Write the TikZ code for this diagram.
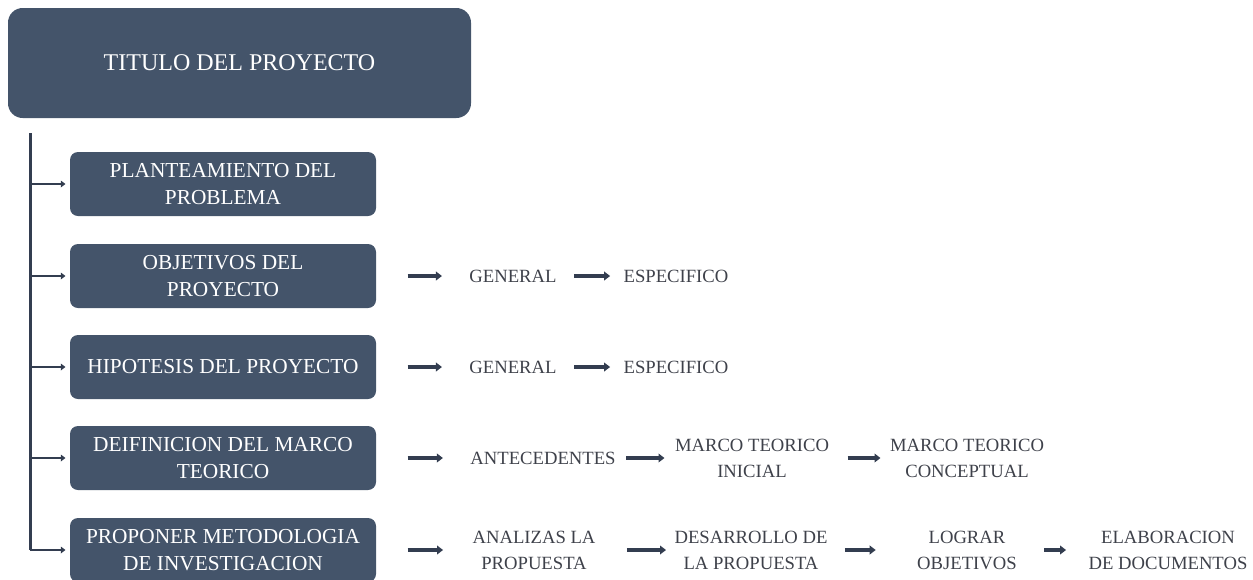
\documentclass[tikz,border=0pt]{standalone}
\usepackage{fontspec}
\setmainfont{Liberation Serif}
\usetikzlibrary{arrows.meta}

\definecolor{cajaazul}{RGB}{68,84,106}
\definecolor{lineaazul}{RGB}{51,61,80}
\definecolor{textogris}{RGB}{62,65,74}

\tikzset{every picture/.style={line width=0.75pt}}
\tikzset{
	caja/.style={fill=cajaazul, draw=none, rounded corners=6pt, minimum width=229.5pt, minimum height=48pt, text=white, align=center, inner sep=0pt, font=\fontsize{16}{20}\selectfont},
	titulo/.style={caja, rounded corners=11pt, minimum width=347.25pt, minimum height=82.5pt, font=\fontsize{18}{22}\selectfont},
	etiqueta/.style={text=textogris, align=center, inner sep=0pt, font=\fontsize{14}{19.5}\selectfont},
	rama/.style={draw=lineaazul, line width=2pt, -{Triangle[length=3.5pt,width=5pt]}, shorten >=3pt},
	flecha/.style={draw=lineaazul, line width=2.6pt, -{Triangle[length=4.5pt,width=6.5pt]}},
}

\begin{document}
\begin{tikzpicture}[x=0.75pt,y=0.75pt,yscale=-1,xscale=1]
	\useasboundingbox (0,0) rectangle (1253,579);

	%Shape: Rounded Rect (titulo)
	\node[titulo] (tit) at (239.5,63) {TITULO DEL PROYECTO};

	%Shape: Rounded Rect (etapas)
	\node[caja] (b1) at (223,184) {PLANTEAMIENTO DEL\\PROBLEMA};
	\node[caja] (b2) at (223,276) {OBJETIVOS DEL\\PROYECTO};
	\node[caja] (b3) at (223,367) {HIPOTESIS DEL PROYECTO};
	\node[caja] (b4) at (223,458) {DEIFINICION DEL MARCO\\TEORICO};
	\node[caja] (b5) at (223,550) {PROPONER METODOLOGIA\\DE INVESTIGACION};

	%Straight Lines (tronco y ramas)
	\coordinate (tronco) at (30,133);
	\draw [draw=lineaazul, line width=2.25pt] (tronco) -- (tronco |- b5.west);
	\foreach \i in {1,...,5}
		\draw [rama] (tronco |- b\i.west) -- (b\i.west);

	% Text Node
	\node[etiqueta] (gen2) at (513,276) {GENERAL};
	\node[etiqueta] (esp2) at (676,276) {ESPECIFICO};
	\node[etiqueta] (gen3) at (513,367) {GENERAL};
	\node[etiqueta] (esp3) at (676,367) {ESPECIFICO};
	\node[etiqueta] (ant) at (543,458) {ANTECEDENTES};
	\node[etiqueta] (mti) at (752,458) {MARCO TEORICO\\INICIAL};
	\node[etiqueta] (mtc) at (967,458) {MARCO TEORICO\\CONCEPTUAL};
	\node[etiqueta] (ana) at (534,550) {ANALIZAS LA\\PROPUESTA};
	\node[etiqueta] (des) at (751,550) {DESARROLLO DE\\LA PROPUESTA};
	\node[etiqueta] (log) at (967,550) {LOGRAR\\OBJETIVOS};
	\node[etiqueta] (ela) at (1168,550) {ELABORACION\\DE DOCUMENTOS};

	%Straight Lines (flechas)
	\draw [flecha, shorten <=23.25pt, shorten >=20.25pt] (b2.east) -- (gen2.west);
	\draw [flecha, shorten <=12.75pt, shorten >=9.75pt] (gen2.east) -- (esp2.west);
	\draw [flecha, shorten <=23.25pt, shorten >=20.25pt] (b3.east) -- (gen3.west);
	\draw [flecha, shorten <=12.75pt, shorten >=9.75pt] (gen3.east) -- (esp3.west);
	\draw [flecha, shorten <=23.25pt, shorten >=20.25pt] (b4.east) -- (ant.west);
	\draw [flecha, shorten <=7.5pt, shorten >=7.5pt] (ant.east) -- (mti.west);
	\draw [flecha, shorten <=13.5pt, shorten >=6.75pt] (mti.east) -- (mtc.west);
	\draw [flecha, shorten <=23.25pt, shorten >=21.75pt] (b5.east) -- (ana.west);
	\draw [flecha, shorten <=23.25pt, shorten >=6pt] (ana.east) -- (des.west);
	\draw [flecha, shorten <=12.75pt, shorten >=30.75pt] (des.east) -- (log.west);
	\draw [flecha, shorten <=20.25pt, shorten >=16.5pt] (log.east) -- (ela.west);

\end{tikzpicture}
\end{document}
